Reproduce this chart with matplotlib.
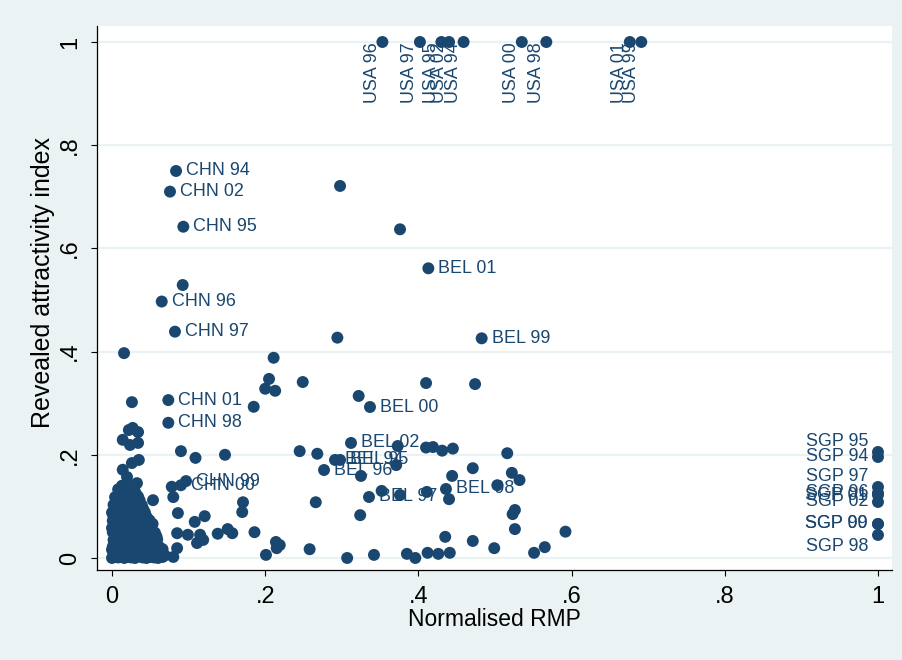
import matplotlib
matplotlib.use("Agg")
import matplotlib.pyplot as plt

# ---------------- data ----------------
# labelled observations
lab_names = ["USA 96", "USA 97", "USA 95", "USA 02", "USA 94", "USA 00", "USA 98", "USA 01", "USA 99",
             "CHN 94", "CHN 02", "CHN 95", "CHN 96", "CHN 97", "CHN 01", "CHN 98", "CHN 00", "CHN 99",
             "BEL 01", "BEL 99", "BEL 00", "BEL 02", "BEL 94", "BEL 95", "BEL 96", "BEL 97", "BEL 98",
             "SGP 95", "SGP 94", "SGP 97", "SGP 96", "SGP 01", "SGP 02", "SGP 99", "SGP 00", "SGP 98"]
lab_x = [0.353, 0.402, 0.430, 0.440, 0.459, 0.535, 0.567, 0.676, 0.691,
         0.0836, 0.0757, 0.0931, 0.0649, 0.0822, 0.0735, 0.0735, 0.090, 0.0966,
         0.413, 0.4826, 0.3368, 0.312, 0.2911, 0.2977, 0.2768, 0.3355, 0.436,
         1.0, 1.0, 1.0, 1.0, 1.0, 1.0, 1.0, 1.0, 1.0]
lab_y = [1.0, 1.0, 1.0, 1.0, 1.0, 1.0, 1.0, 1.0, 1.0,
         0.750, 0.710, 0.642, 0.497, 0.4386, 0.306, 0.262, 0.141, 0.149,
         0.5614, 0.4257, 0.2926, 0.2229, 0.190, 0.190, 0.1705, 0.1182, 0.1337,
         0.2054, 0.1957, 0.1376, 0.126, 0.122, 0.1085, 0.0659, 0.0659, 0.0446]
# clock position of the label (Stata mlabpos); 0 = vertical text below-left
lab_pos = [0] * 9 + [3] * 9 + [3] * 9 + [10, 9, 10, 9, 9, 9, 9, 9, 8]

# unlabelled observations (scattered)
pts_x = [0.2977, 0.376, 0.0923, 0.2942, 0.0157, 0.410, 0.474,
         0.211, 0.249, 0.205, 0.200, 0.213, 0.185, 0.322, 0.026,
         0.027, 0.022, 0.034, 0.014, 0.0235, 0.034,
         0.090, 0.109, 0.1475, 0.245, 0.268,
         0.026, 0.035, 0.014, 0.0196, 0.0326,
         0.078, 0.080, 0.086, 0.0535, 0.108, 0.121, 0.171, 0.170,
         0.085, 0.099, 0.115, 0.138, 0.151, 0.157, 0.186,
         0.085, 0.080, 0.111, 0.119, 0.201, 0.214, 0.215,
         0.266, 0.219, 0.258,
         0.373, 0.410, 0.419, 0.431, 0.445, 0.371, 0.325, 0.516, 0.471, 0.522, 0.532,
         0.444, 0.503, 0.440, 0.411, 0.352, 0.376, 0.324, 0.526, 0.523, 0.526, 0.592,
         0.435, 0.471, 0.499, 0.551, 0.565,
         0.307, 0.342, 0.385, 0.396, 0.412, 0.426, 0.441]
pts_y = [0.721, 0.637, 0.529, 0.427, 0.397, 0.339, 0.337,
         0.388, 0.341, 0.347, 0.328, 0.324, 0.293, 0.314, 0.302,
         0.252, 0.248, 0.244, 0.229, 0.219, 0.223,
         0.207, 0.194, 0.200, 0.207, 0.202,
         0.184, 0.190, 0.171, 0.157, 0.145,
         0.138, 0.118, 0.087, 0.112, 0.070, 0.081, 0.108, 0.089,
         0.048, 0.045, 0.045, 0.047, 0.056, 0.048, 0.050,
         0.019, 0.002, 0.029, 0.035, 0.006, 0.031, 0.019,
         0.108, 0.025, 0.017,
         0.217, 0.214, 0.215, 0.208, 0.212, 0.180, 0.159, 0.203, 0.174, 0.165, 0.151,
         0.159, 0.141, 0.114, 0.128, 0.130, 0.122, 0.083, 0.093, 0.085, 0.056, 0.051,
         0.041, 0.033, 0.019, 0.010, 0.021,
         0.000, 0.006, 0.008, 0.000, 0.010, 0.008, 0.010]

# unlabelled observations (dense cluster near the origin)
cluster_x = [0.000, 0.004, 0.008, 0.012, 0.016, 0.020, 0.025, 0.030, 0.035, 0.040, 0.045, 0.050, 0.055, 0.060, 0.066,
             0.003, 0.009, 0.014, 0.019, 0.024, 0.029, 0.036, 0.042, 0.048, 0.053, 0.059, 0.064, 0.069,
             0.002, 0.006, 0.011, 0.015, 0.020, 0.026, 0.032, 0.038, 0.044, 0.050, 0.057, 0.063,
             0.000, 0.008, 0.013, 0.018, 0.024, 0.030, 0.036, 0.043, 0.052, 0.060, 0.066,
             0.001, 0.005, 0.010, 0.015, 0.021, 0.027, 0.034, 0.041, 0.048, 0.055, 0.062,
             0.003, 0.009, 0.013, 0.019, 0.025, 0.033, 0.040, 0.050, 0.058,
             0.002, 0.007, 0.012, 0.018, 0.024, 0.031, 0.038, 0.046, 0.053, 0.059,
             0.004, 0.010, 0.015, 0.021, 0.028, 0.035, 0.043, 0.051, 0.058,
             0.001, 0.006, 0.012, 0.018, 0.025, 0.032, 0.040, 0.048, 0.056,
             0.000, 0.007, 0.013, 0.020, 0.027, 0.035, 0.044, 0.051,
             0.003, 0.009, 0.015, 0.022, 0.030, 0.038, 0.047, 0.053,
             0.001, 0.006, 0.012, 0.018, 0.026, 0.034, 0.042, 0.049,
             0.002, 0.008, 0.014, 0.021, 0.029, 0.037, 0.045,
             0.000, 0.006, 0.012, 0.019, 0.027, 0.035, 0.043,
             0.004, 0.010, 0.017, 0.025, 0.033, 0.041,
             0.002, 0.008, 0.015, 0.023, 0.031, 0.039,
             0.006, 0.013, 0.020, 0.028, 0.036,
             0.004, 0.011, 0.018, 0.026, 0.034,
             0.009, 0.016, 0.024, 0.031,
             0.008, 0.015, 0.022, 0.029,
             0.013, 0.020, 0.028]
cluster_y = [0.000, 0.002, 0.001, 0.003, 0.000, 0.002, 0.001, 0.000, 0.003, 0.001, 0.000, 0.002, 0.001, 0.000, 0.002,
             0.005, 0.006, 0.004, 0.005, 0.006, 0.004, 0.005, 0.006, 0.004, 0.005, 0.006, 0.004, 0.005,
             0.010, 0.011, 0.009, 0.012, 0.010, 0.011, 0.009, 0.012, 0.010, 0.011, 0.009, 0.010,
             0.016, 0.017, 0.015, 0.016, 0.017, 0.015, 0.016, 0.017, 0.015, 0.016, 0.017,
             0.022, 0.021, 0.023, 0.022, 0.020, 0.023, 0.022, 0.021, 0.023, 0.022, 0.021,
             0.028, 0.029, 0.027, 0.028, 0.029, 0.027, 0.028, 0.029, 0.027,
             0.035, 0.036, 0.034, 0.035, 0.037, 0.034, 0.036, 0.035, 0.034, 0.036,
             0.043, 0.044, 0.042, 0.043, 0.044, 0.042, 0.043, 0.044, 0.042,
             0.050, 0.049, 0.051, 0.050, 0.052, 0.049, 0.050, 0.051, 0.049,
             0.058, 0.059, 0.057, 0.058, 0.059, 0.057, 0.058, 0.059,
             0.065, 0.066, 0.064, 0.065, 0.067, 0.064, 0.065, 0.066,
             0.072, 0.073, 0.071, 0.072, 0.073, 0.071, 0.072, 0.073,
             0.080, 0.081, 0.079, 0.080, 0.082, 0.079, 0.080,
             0.088, 0.089, 0.087, 0.088, 0.089, 0.087, 0.088,
             0.095, 0.096, 0.094, 0.095, 0.097, 0.094,
             0.103, 0.104, 0.102, 0.103, 0.104, 0.102,
             0.110, 0.111, 0.109, 0.110, 0.112,
             0.118, 0.119, 0.117, 0.118, 0.119,
             0.125, 0.126, 0.124, 0.125,
             0.133, 0.134, 0.132, 0.133,
             0.140, 0.141, 0.139]

x_ticks = [0, 0.2, 0.4, 0.6, 0.8, 1.0]
x_ticklabels = ["0", ".2", ".4", ".6", ".8", "1"]
y_ticks = [0, 0.2, 0.4, 0.6, 0.8, 1.0]
y_ticklabels = ["0", ".2", ".4", ".6", ".8", "1"]
x_title = "Normalised RMP"
y_title = "Revealed attractivity index"

# ---------------- style ----------------
NAVY = "#1a476f"
BG = "#eaf2f3"
FONT = ["Liberation Sans", "DejaVu Sans"]
plt.rcParams["font.family"] = FONT

W, H = 902, 660
fig = plt.figure(figsize=(W / 100, H / 100), dpi=100, facecolor=BG)
L, R, T, B = 97, 892, 26, 570
ax = fig.add_axes([L / W, 1 - B / H, (R - L) / W, (B - T) / H])
ax.set_facecolor("white")

ax.set_xlim(-0.0196, 1.0183)
ax.set_ylim(-0.0233, 1.031)

for yv in y_ticks:
    ax.axhline(yv, color=BG, lw=1.6, zorder=0)

ms = 74
ax.scatter(cluster_x, cluster_y, s=ms, color=NAVY, edgecolors="none", zorder=3)
ax.scatter(pts_x, pts_y, s=ms, color=NAVY, edgecolors="none", zorder=3)
ax.scatter(lab_x, lab_y, s=ms, color=NAVY, edgecolors="none", zorder=3)

offsets = {3: (10, 0, "left"), 9: (-10, 0, "right"), 10: (-10, 10, "right"), 8: (-10, -12, "right")}
for name, xv, yv, p in zip(lab_names, lab_x, lab_y, lab_pos):
    if p == 0:
        ax.annotate(name, (xv, yv), xytext=(-10, 0), textcoords="offset pixels",
                    rotation=90, ha="center", va="top", color=NAVY, fontsize=12.9, zorder=4)
    else:
        dx, dy, ha = offsets[p]
        ax.annotate(name, (xv, yv), xytext=(dx, dy), textcoords="offset pixels",
                    ha=ha, va="center", color=NAVY, fontsize=12.9, zorder=4)

ax.set_xticks(x_ticks)
ax.set_xticklabels(x_ticklabels, fontsize=17)
ax.set_yticks(y_ticks)
ax.set_yticklabels(y_ticklabels, fontsize=17, rotation=90, va="center")
ax.tick_params(axis="both", direction="out", length=4.5, width=0.8, color="black", pad=7)

for side in ["top", "right"]:
    ax.spines[side].set_visible(False)
for side in ["left", "bottom"]:
    ax.spines[side].set_color("black")
    ax.spines[side].set_linewidth(0.9)

ax.set_xlabel(x_title, fontsize=16.5, va="center")
ax.xaxis.set_label_coords(0.5, (B - 620) / (B - T))
ax.set_ylabel(y_title, fontsize=18, va="center")
ax.yaxis.set_label_coords((43 - L) / (R - L), (B - 283) / (B - T))

fig.savefig("out.png", dpi=100, facecolor=BG)
